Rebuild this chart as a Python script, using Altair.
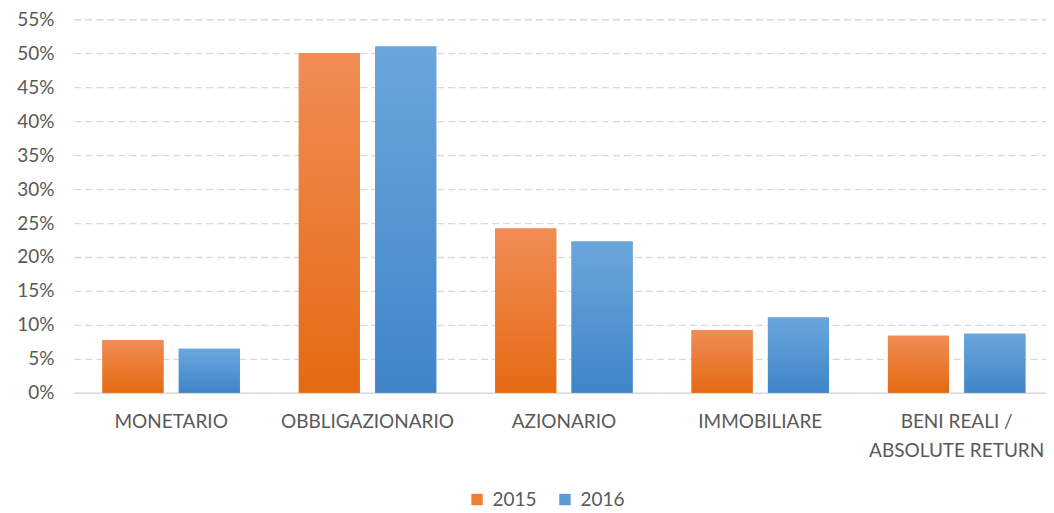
import altair as alt
import pandas as pd

categories = ["MONETARIO", "OBBLIGAZIONARIO", "AZIONARIO", "IMMOBILIARE", "BENI REALI / ABSOLUTE RETURN"]
years = ["2015", "2016"]
values_2015 = [0.078, 0.500, 0.242, 0.092, 0.084]
values_2016 = [0.065, 0.510, 0.223, 0.111, 0.087]
y_ticks = [i / 100 for i in range(0, 60, 5)]

rows = []
for c, v in zip(categories, values_2015):
    rows.append({"cat": c, "year": "2015", "val": v})
for c, v in zip(categories, values_2016):
    rows.append({"cat": c, "year": "2016", "val": v})
df = pd.DataFrame(rows)

FONT = "Lato"
orange = "#ED7D31"
blue = "#5B9BD5"
FS = 19

x_enc = alt.X("cat:N", sort=categories, title=None,
              scale=alt.Scale(paddingInner=0.3, paddingOuter=0.125, align=0.58),
              axis=alt.Axis(labelAngle=0, ticks=False, labelPadding=20, labelFontSize=FS,
                            labelColor="#595959", labelFont=FONT, domainColor="#D9D9D9",
                            domainWidth=1.5, labelLineHeight=29,
                            labelExpr="datum.label == 'BENI REALI / ABSOLUTE RETURN' ? ['BENI REALI /', 'ABSOLUTE RETURN'] : datum.label"))
y_enc = alt.Y("val:Q", title=None,
              scale=alt.Scale(domain=[0, 0.55], nice=False),
              axis=alt.Axis(values=y_ticks, format=".0%", ticks=False, domain=False,
                            labelFontSize=FS, labelColor="#595959", labelFont=FONT,
                            labelPadding=20, gridColor="#D9D9D9", gridDash=[7, 4], gridWidth=1.3))
xoff = alt.XOffset("year:N", sort=years, scale=alt.Scale(paddingInner=0.2))

base = alt.Chart(df).mark_bar().encode(
    x=x_enc, y=y_enc, xOffset=xoff,
    color=alt.Color("year:N", sort=years,
                    scale=alt.Scale(domain=years, range=[orange, blue]),
                    legend=alt.Legend(title=None, orient="none", direction="horizontal",
                                      legendX=394, legendY=471,
                                      symbolType="square", symbolSize=130, labelFontSize=FS,
                                      labelColor="#595959", labelFont=FONT, columnPadding=18,
                                      labelOffset=6)),
)

def grad(c1, c2):
    return alt.Gradient(gradient="linear", x1=0, y1=0, x2=0, y2=1,
                        stops=[alt.GradientStop(color=c1, offset=0),
                               alt.GradientStop(color=c2, offset=1)])

over15 = alt.Chart(df).transform_filter("datum.year == '2015'").mark_bar(
    fill=grad("#F08C55", "#E46A12")).encode(x=x_enc, y=y_enc, xOffset=xoff)
over16 = alt.Chart(df).transform_filter("datum.year == '2016'").mark_bar(
    fill=grad("#6AA6DC", "#3F85C8")).encode(x=x_enc, y=y_enc, xOffset=xoff)

chart = alt.layer(base, over15, over16).properties(
    width=973, height=374,
).configure(font=FONT, padding={"left": 8, "top": 2, "right": 0, "bottom": 0},
            view=alt.ViewConfig(stroke=None))

chart.save("out.html", embed_options={"renderer": "svg", "actions": False})
